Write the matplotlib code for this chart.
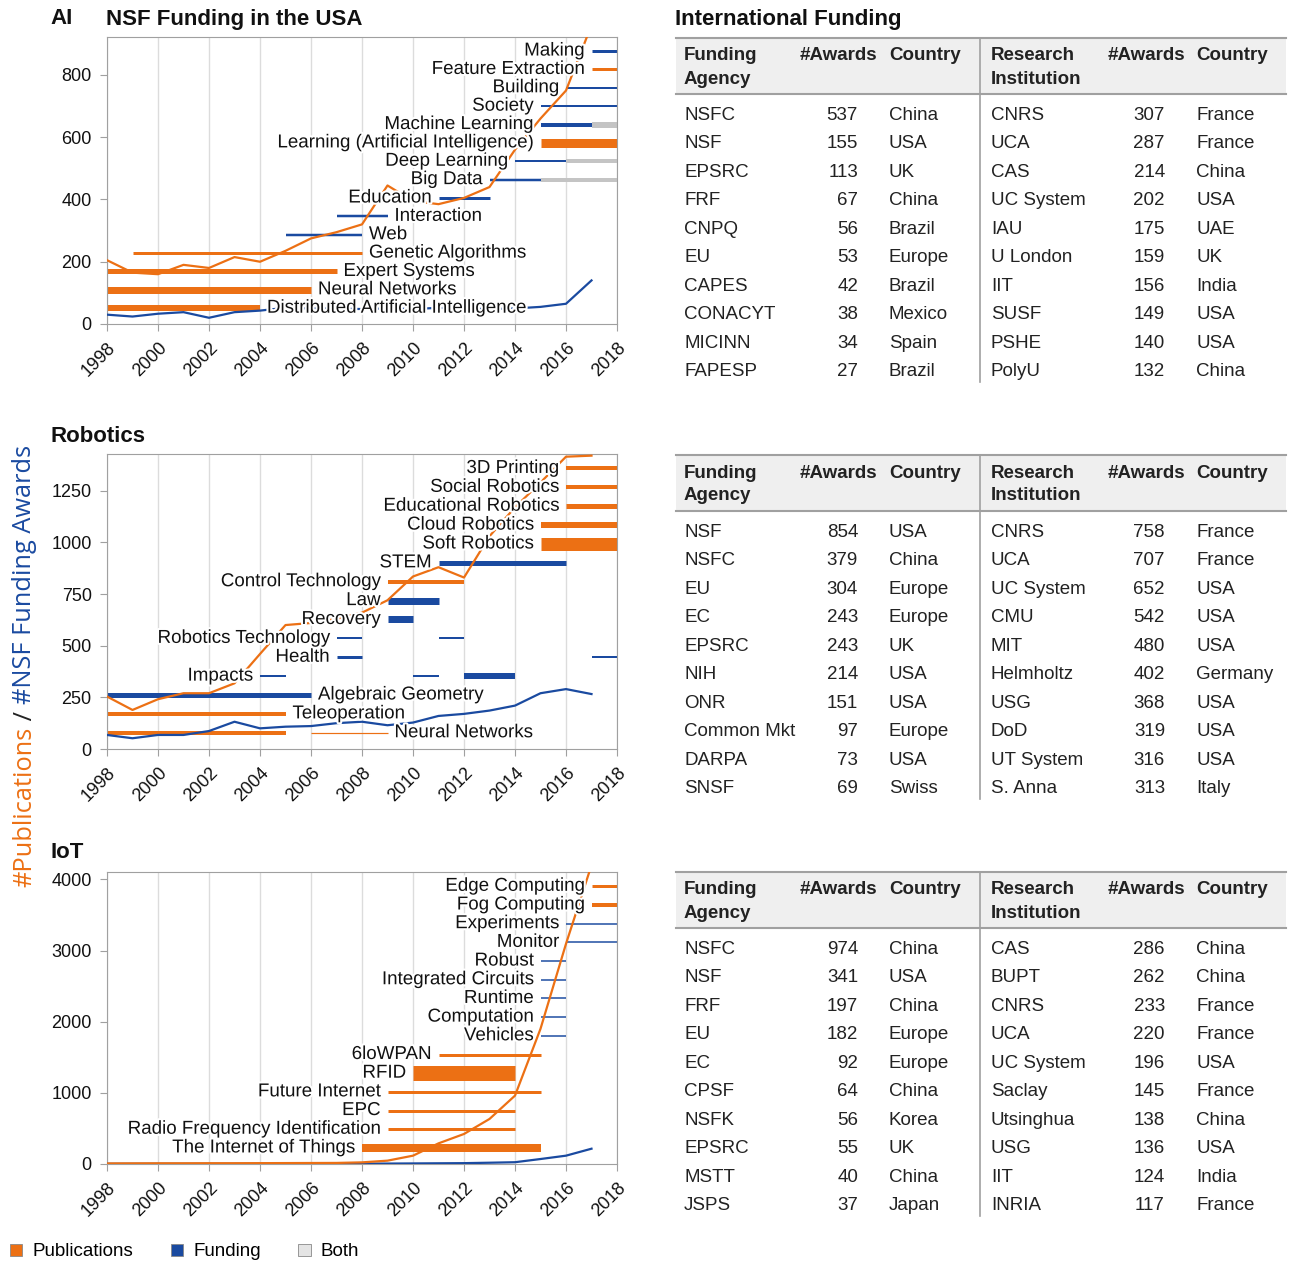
import matplotlib
matplotlib.use('Agg')
import matplotlib.pyplot as plt
import matplotlib.patheffects as pe
from matplotlib.patches import Patch, Rectangle

plt.rcParams['font.family'] = ['Liberation Sans', 'DejaVu Sans']

ORANGE = '#ec7014'
BLUE = '#1a4aa0'
GREY = '#c4c4c4'
KIND_COLOR = {'pub': ORANGE, 'fund': BLUE, 'both': GREY}
W, H = 1292, 1262

years = list(range(1998, 2018))

# ---------------- AI ----------------
ai_pubs = [205, 165, 160, 190, 180, 215, 200, 235, 275, 295, 320, 445, 395, 385, 405, 440, 560, 660, 750, 960]
ai_fund = [30, 24, 33, 38, 20, 38, 43, 52, 50, 50, 48, 50, 48, 52, 50, 48, 50, 55, 65, 140]
ai_topics = ['Distributed Artificial Intelligence', 'Neural Networks', 'Expert Systems',
             'Genetic Algorithms', 'Web', 'Interaction', 'Education', 'Big Data',
             'Deep Learning', 'Learning (Artificial Intelligence)', 'Machine Learning',
             'Society', 'Building', 'Feature Extraction', 'Making']
ai_spans = [
    [(1998, 2004, 'pub', 6)],
    [(1998, 2006, 'pub', 7)],
    [(1998, 2007, 'pub', 5)],
    [(1999, 2008, 'pub', 3)],
    [(2005, 2008, 'fund', 2.5)],
    [(2007, 2009, 'fund', 2.5)],
    [(2011, 2013, 'fund', 3)],
    [(2013, 2015, 'fund', 2.5), (2015, 2018, 'both', 4)],
    [(2014, 2016, 'fund', 2), (2016, 2018, 'both', 4)],
    [(2015, 2018, 'pub', 9)],
    [(2015, 2017, 'fund', 4), (2017, 2018, 'both', 6)],
    [(2015, 2018, 'fund', 2)],
    [(2016, 2018, 'fund', 2)],
    [(2017, 2018, 'pub', 3)],
    [(2017, 2018, 'fund', 3)],
]
ai_label_right = 6

# ---------------- Robotics ----------------
rob_pubs = [254, 189, 241, 270, 270, 318, 460, 600, 610, 630, 660, 720, 835, 880, 830, 1030, 1170, 1290, 1415, 1420]
rob_fund = [68, 52, 68, 68, 87, 132, 100, 108, 111, 125, 132, 115, 128, 160, 170, 186, 210, 270, 290, 266]
rob_topics = ['Neural Networks', 'Teleoperation', 'Algebraic Geometry', 'Impacts', 'Health',
              'Robotics Technology', 'Recovery', 'Law', 'Control Technology', 'STEM',
              'Soft Robotics', 'Cloud Robotics', 'Educational Robotics', 'Social Robotics',
              '3D Printing']
rob_spans = [
    [(1998, 2005, 'pub', 4), (2006, 2009, 'pub', 1.2)],
    [(1998, 2005, 'pub', 4)],
    [(1998, 2006, 'fund', 5)],
    [(2004, 2005, 'fund', 2), (2010, 2011, 'fund', 2), (2012, 2014, 'fund', 6)],
    [(2007, 2008, 'fund', 3), (2017, 2018, 'fund', 2)],
    [(2007, 2008, 'fund', 2), (2011, 2012, 'fund', 2)],
    [(2009, 2010, 'fund', 7)],
    [(2009, 2011, 'fund', 7)],
    [(2009, 2012, 'pub', 4)],
    [(2011, 2016, 'fund', 5)],
    [(2015, 2018, 'pub', 13)],
    [(2015, 2018, 'pub', 6)],
    [(2016, 2018, 'pub', 5)],
    [(2016, 2018, 'pub', 4)],
    [(2016, 2018, 'pub', 4)],
]
rob_label_right = 3

# ---------------- IoT ----------------
iot_pubs = [8, 9, 10, 10, 11, 11, 12, 13, 14, 15, 23, 47, 117, 290, 422, 633, 961, 1900, 3095, 4200]
iot_fund = [3, 3, 3, 3, 3, 3, 4, 4, 4, 5, 5, 6, 8, 10, 12, 18, 25, 70, 117, 215]
iot_topics = ['The Internet of Things', 'Radio Frequency Identification', 'EPC',
              'Future Internet', 'RFID', '6loWPAN', 'Vehicles', 'Computation', 'Runtime',
              'Integrated Circuits', 'Robust', 'Monitor', 'Experiments', 'Fog Computing',
              'Edge Computing']
iot_spans = [
    [(2008, 2015, 'pub', 8)],
    [(2009, 2014, 'pub', 3)],
    [(2009, 2014, 'pub', 3)],
    [(2009, 2015, 'pub', 3)],
    [(2010, 2014, 'pub', 15)],
    [(2011, 2015, 'pub', 3)],
    [(2015, 2016, 'fund', 1.5)],
    [(2015, 2016, 'fund', 1.5)],
    [(2015, 2016, 'fund', 1.5)],
    [(2015, 2016, 'fund', 1.5)],
    [(2015, 2016, 'fund', 1.5)],
    [(2016, 2018, 'fund', 1.5)],
    [(2016, 2018, 'fund', 1.5)],
    [(2017, 2018, 'pub', 4)],
    [(2017, 2018, 'pub', 3)],
]
iot_label_right = 0

# ---------------- tables ----------------
ai_agency = ['NSFC', 'NSF', 'EPSRC', 'FRF', 'CNPQ', 'EU', 'CAPES', 'CONACYT', 'MICINN', 'FAPESP']
ai_agency_awards = [537, 155, 113, 67, 56, 53, 42, 38, 34, 27]
ai_agency_country = ['China', 'USA', 'UK', 'China', 'Brazil', 'Europe', 'Brazil', 'Mexico', 'Spain', 'Brazil']
ai_inst = ['CNRS', 'UCA', 'CAS', 'UC System', 'IAU', 'U London', 'IIT', 'SUSF', 'PSHE', 'PolyU']
ai_inst_awards = [307, 287, 214, 202, 175, 159, 156, 149, 140, 132]
ai_inst_country = ['France', 'France', 'China', 'USA', 'UAE', 'UK', 'India', 'USA', 'USA', 'China']

rob_agency = ['NSF', 'NSFC', 'EU', 'EC', 'EPSRC', 'NIH', 'ONR', 'Common Mkt', 'DARPA', 'SNSF']
rob_agency_awards = [854, 379, 304, 243, 243, 214, 151, 97, 73, 69]
rob_agency_country = ['USA', 'China', 'Europe', 'Europe', 'UK', 'USA', 'USA', 'Europe', 'USA', 'Swiss']
rob_inst = ['CNRS', 'UCA', 'UC System', 'CMU', 'MIT', 'Helmholtz', 'USG', 'DoD', 'UT System', 'S. Anna']
rob_inst_awards = [758, 707, 652, 542, 480, 402, 368, 319, 316, 313]
rob_inst_country = ['France', 'France', 'USA', 'USA', 'USA', 'Germany', 'USA', 'USA', 'USA', 'Italy']

iot_agency = ['NSFC', 'NSF', 'FRF', 'EU', 'EC', 'CPSF', 'NSFK', 'EPSRC', 'MSTT', 'JSPS']
iot_agency_awards = [974, 341, 197, 182, 92, 64, 56, 55, 40, 37]
iot_agency_country = ['China', 'USA', 'China', 'Europe', 'Europe', 'China', 'Korea', 'UK', 'China', 'Japan']
iot_inst = ['CAS', 'BUPT', 'CNRS', 'UCA', 'UC System', 'Saclay', 'Utsinghua', 'USG', 'IIT', 'INRIA']
iot_inst_awards = [286, 262, 233, 220, 196, 145, 138, 136, 124, 117]
iot_inst_country = ['China', 'China', 'France', 'France', 'USA', 'France', 'China', 'USA', 'India', 'France']


fig = plt.figure(figsize=(W / 100, H / 100), dpi=100)

# full-figure overlay in pixel coordinates for titles / tables
bg = fig.add_axes([0, 0, 1, 1], zorder=-1)
bg.set_xlim(0, W)
bg.set_ylim(H, 0)
bg.axis('off')

halo = [pe.withStroke(linewidth=3, foreground='white')]


def px_axes(left, top, right, bottom):
    return fig.add_axes([left / W, 1 - bottom / H, (right - left) / W, (bottom - top) / H])


def draw_chart(ax, pubs, fund, topics, spans, n_right, ymax, yticks):
    trans = ax.get_xaxis_transform()
    for i, (topic, segs) in enumerate(zip(topics, spans)):
        yr = 0.055 + 0.064 * i
        for s, e, kind, w in segs:
            ax.plot([s, e], [yr, yr], transform=trans, color=KIND_COLOR[kind],
                    lw=w * 0.72, solid_capstyle='butt', zorder=2)
        if i < n_right:
            ax.annotate(topic, xy=(segs[-1][1], yr), xycoords=trans, xytext=(5, 0),
                        textcoords='offset points', ha='left', va='center',
                        fontsize=13.5, color='#111', path_effects=halo, zorder=5)
        else:
            ax.annotate(topic, xy=(segs[0][0], yr), xycoords=trans, xytext=(-5, 0),
                        textcoords='offset points', ha='right', va='center',
                        fontsize=13.5, color='#111', path_effects=halo, zorder=5)
    ax.plot(years, fund, color=BLUE, lw=1.6, zorder=3)
    ax.plot(years, pubs, color=ORANGE, lw=1.6, zorder=3)
    ax.set_xlim(1998, 2018)
    ax.set_ylim(0, ymax)
    ax.set_yticks(yticks)
    ax.set_xticks(range(1998, 2019, 2))
    ax.set_xticklabels([str(y) for y in range(1998, 2019, 2)], rotation=45,
                       ha='right', rotation_mode='anchor')
    ax.grid(axis='x', color='#dcdcdc', lw=1)
    ax.set_axisbelow(True)
    for sp in ax.spines.values():
        sp.set_color('#a0a0a0')
    ax.tick_params(length=5, color='#a0a0a0', labelsize=13, pad=6, labelcolor='#111')


ax1 = px_axes(107, 37, 617, 324)
draw_chart(ax1, ai_pubs, ai_fund, ai_topics, ai_spans, ai_label_right, 922, range(0, 801, 200))
ax2 = px_axes(107, 454, 617, 749)
draw_chart(ax2, rob_pubs, rob_fund, rob_topics, rob_spans, rob_label_right, 1428, range(0, 1251, 250))
ax3 = px_axes(107, 872, 617, 1164)
draw_chart(ax3, iot_pubs, iot_fund, iot_topics, iot_spans, iot_label_right, 4104, range(0, 4001, 1000))

# titles
tkw = dict(fontsize=16, fontweight='bold', va='center', color='#111')
bg.text(50, 19, 'AI', **tkw)
bg.text(106, 19, 'NSF Funding in the USA', **tkw)
bg.text(675, 19, 'International Funding', **tkw)
bg.text(50, 436, 'Robotics', **tkw)
bg.text(50, 853, 'IoT', **tkw)


def draw_table(top, agency, ag_awards, ag_country, inst, in_awards, in_country):
    bg.add_patch(Rectangle((676, top), 610, 56, color='#efefef', lw=0))
    bg.plot([676, 1286], [top, top], color='#a0a0a0', lw=1.5)
    bg.plot([676, 1286], [top + 56, top + 56], color='#a0a0a0', lw=1.5)
    bg.plot([980, 980], [top, top + 344], color='#a0a0a0', lw=1.2)
    hk = dict(fontsize=13.5, fontweight='bold', va='center', color='#222')
    bg.text(684, top + 18, 'Funding', **hk)
    bg.text(684, top + 41, 'Agency', **hk)
    bg.text(877, top + 18, '#Awards', ha='right', **hk)
    bg.text(889, top + 18, 'Country', **hk)
    bg.text(991, top + 18, 'Research', **hk)
    bg.text(991, top + 41, 'Institution', **hk)
    bg.text(1185, top + 18, '#Awards', ha='right', **hk)
    bg.text(1196, top + 18, 'Country', **hk)
    rk = dict(fontsize=13.5, va='center', color='#222')
    for i in range(len(agency)):
        y = top + 77.5 + i * 28.45
        bg.text(684, y, agency[i], **rk)
        bg.text(858, y, str(ag_awards[i]), ha='right', **rk)
        bg.text(889, y, ag_country[i], **rk)
        bg.text(991, y, inst[i], **rk)
        bg.text(1165, y, str(in_awards[i]), ha='right', **rk)
        bg.text(1196, y, in_country[i], **rk)


draw_table(38, ai_agency, ai_agency_awards, ai_agency_country, ai_inst, ai_inst_awards, ai_inst_country)
draw_table(455, rob_agency, rob_agency_awards, rob_agency_country, rob_inst, rob_inst_awards, rob_inst_country)
draw_table(872, iot_agency, iot_agency_awards, iot_agency_country, iot_inst, iot_inst_awards, iot_inst_country)

# multi-colour vertical axis label
renderer = fig.canvas.get_renderer()
ypos = 887
for piece, col in [('#Publications', ORANGE), (' / ', '#222'), ('#NSF Funding Awards', BLUE)]:
    t = bg.text(25, ypos, piece, rotation=90, ha='center', va='bottom', color=col,
                fontsize=18.3, family=['Open Sans', 'DejaVu Sans'])
    ext = t.get_window_extent(renderer)
    ypos -= ext.height

# legend
handles = [Patch(facecolor=ORANGE, edgecolor='#888', lw=0.6),
           Patch(facecolor=BLUE, edgecolor='#888', lw=0.6),
           Patch(facecolor='#e4e4e4', edgecolor='#888', lw=0.6)]
fig.legend(handles, ['Publications', 'Funding', 'Both'], loc='center left',
           bbox_to_anchor=(10 / W, 1 - 1252 / H), ncol=3, frameon=False, fontsize=13.5,
           handlelength=0.65, handleheight=0.65, handletextpad=0.55, columnspacing=2.0,
           borderpad=0, borderaxespad=0)

fig.savefig('out.png', dpi=100)
